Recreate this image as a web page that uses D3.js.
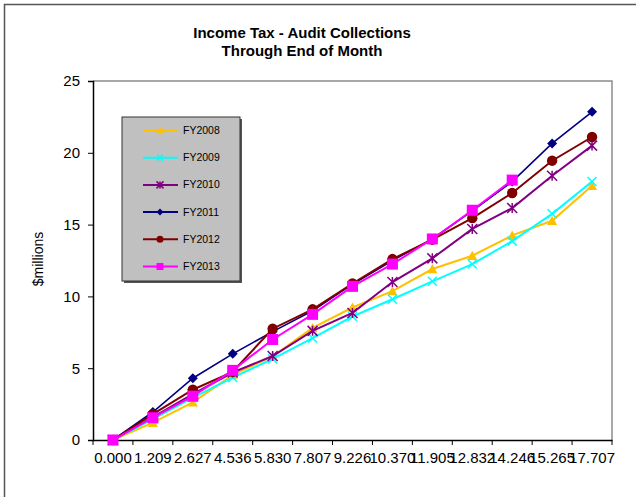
<!DOCTYPE html>
<html>
<head>
<meta charset="utf-8">
<script src="https://cdn.jsdelivr.net/npm/d3@7"></script>
<style>
  html, body { margin: 0; padding: 0; background: #fff; }
  svg { display: block; font-family: "Liberation Sans", Arial, sans-serif; }
</style>
</head>
<body>
<svg id="chart" width="636" height="497"></svg>
<script>
// ---- data ----
const categories = ["0.000","1.209","2.627","4.536","5.830","7.807","9.226","10.370","11.905","12.832","14.246","15.265","17.707"];
const seriesNames = ["FY2008","FY2009","FY2010","FY2011","FY2012","FY2013"];
const fy2008 = [0, 1.209, 2.627, 4.536, 5.830, 7.807, 9.226, 10.370, 11.905, 12.832, 14.246, 15.265, 17.707];
const fy2009 = [0, 1.45, 2.95, 4.35, 5.65, 7.1, 8.6, 9.8, 11.05, 12.25, 13.85, 15.75, 18.0];
const fy2010 = [0, 1.6, 3.2, 4.7, 5.85, 7.6, 8.85, 11.0, 12.65, 14.7, 16.15, 18.4, 20.5];
const fy2011 = [0, 1.95, 4.3, 6.0, 7.55, 9.0, 10.85, 12.5, 14.0, 15.95, 18.0, 20.65, 22.85];
const fy2012 = [0, 1.8, 3.5, 4.75, 7.75, 9.1, 10.9, 12.6, 13.95, 15.45, 17.2, 19.45, 21.1];
const fy2013 = [0, 1.55, 3.05, 4.85, 7.0, 8.75, 10.7, 12.25, 14.0, 16.0, 18.1];
const yTicks = [0, 5, 10, 15, 20, 25];
const titleLines = ["Income Tax - Audit Collections", "Through End of Month"];
const yLabel = "$millions";

const colors = ["#FFC000", "#00FFFF", "#800080", "#000080", "#800000", "#FF00FF"];
const markers = ["triangle", "x", "asterisk", "diamond", "circle", "square"];
const seriesValues = [fy2008, fy2009, fy2010, fy2011, fy2012, fy2013];
const series = seriesNames.map((n, i) => ({ name: n, values: seriesValues[i], color: colors[i], marker: markers[i] }));

// ---- layout ----
const svg = d3.select("#chart");
const plot = { left: 93, right: 612, top: 81, bottom: 440 };

// outer chart border
svg.append("rect").attr("x", 4.5).attr("y", 4.5).attr("width", 700).attr("height", 600)
  .attr("fill", "#fff").attr("stroke", "#555").attr("stroke-width", 1.5);

const x = d3.scaleBand().domain(categories).range([plot.left, plot.right]).paddingInner(0).paddingOuter(0);
const y = d3.scaleLinear().domain([0, 25]).range([plot.bottom, plot.top]);
const cx = d => x(d) + x.bandwidth() / 2;

// plot area border (top/right gray)
svg.append("path")
  .attr("d", `M${plot.left},${plot.top}H${plot.right}V${plot.bottom}`)
  .attr("fill", "none").attr("stroke", "#8c8c8c").attr("stroke-width", 1.5);

// title
const title = svg.append("text").attr("text-anchor", "middle").attr("font-weight", "bold")
  .attr("font-size", 15).attr("fill", "#000");
titleLines.forEach((t, i) => title.append("tspan").attr("x", 302).attr("y", 38 + i * 17.5).text(t));

// y label
svg.append("text").attr("transform", "translate(43,259) rotate(-90)")
  .attr("text-anchor", "middle").attr("font-size", 14).text(yLabel);

// y axis
const yAxis = svg.append("g").attr("transform", `translate(${plot.left},0)`)
  .call(d3.axisLeft(y).tickValues(yTicks).tickSize(5).tickPadding(8).tickFormat(d3.format("d")));
yAxis.select(".domain").attr("stroke", "#000").attr("stroke-width", 1.5);
yAxis.selectAll(".tick line").attr("stroke", "#000");
yAxis.selectAll("text").attr("font-size", 15).attr("font-family", "Liberation Sans, Arial, sans-serif").attr("fill", "#000");

// x axis labels
const xAxis = svg.append("g").attr("transform", `translate(0,${plot.bottom})`)
  .call(d3.axisBottom(x).tickSize(0).tickPadding(12));
xAxis.select(".domain").attr("stroke", "#000").attr("stroke-width", 1.5);
xAxis.selectAll("text").attr("font-size", 15).attr("font-family", "Liberation Sans, Arial, sans-serif").attr("fill", "#000");
// boundary ticks
const bounds = categories.map(c => x(c)).concat([x(categories[categories.length - 1]) + x.bandwidth()]);
xAxis.selectAll("line.bt").data(bounds).enter().append("line").attr("class", "bt")
  .attr("x1", d => d).attr("x2", d => d).attr("y1", 0).attr("y2", 5)
  .attr("stroke", "#000").attr("stroke-width", 1);

// ---- markers ----
function drawMarker(g, type, color, s) {
  if (type === "triangle") {
    g.append("path").attr("d", `M0,${-s}L${s},${s * 0.85}L${-s},${s * 0.85}Z`).attr("fill", color);
  } else if (type === "x") {
    g.append("path").attr("d", `M${-s},${-s}L${s},${s}M${-s},${s}L${s},${-s}`)
      .attr("stroke", color).attr("stroke-width", 1.5).attr("fill", "none");
  } else if (type === "asterisk") {
    g.append("path").attr("d", `M${-s},${-s}L${s},${s}M${-s},${s}L${s},${-s}M0,${-s}L0,${s}`)
      .attr("stroke", color).attr("stroke-width", 1.5).attr("fill", "none");
  } else if (type === "diamond") {
    g.append("path").attr("d", `M0,${-s}L${s},0L0,${s}L${-s},0Z`).attr("fill", color);
  } else if (type === "circle") {
    g.append("circle").attr("r", s).attr("fill", color);
  } else if (type === "square") {
    g.append("rect").attr("x", -s).attr("y", -s).attr("width", 2 * s).attr("height", 2 * s).attr("fill", color);
  }
}
const markerSize = { triangle: 5, x: 4.5, asterisk: 5, diamond: 5, circle: 5.2, square: 5.5 };
const legendMarkerSize = { triangle: 3.5, x: 3, asterisk: 3.5, diamond: 3.5, circle: 3.5, square: 3.5 };

// ---- lines ----
const line = d3.line().x((d, i) => cx(categories[i])).y(d => y(d));
series.forEach(s => {
  const g = svg.append("g");
  g.append("path").datum(s.values).attr("d", line).attr("fill", "none")
    .attr("stroke", s.color).attr("stroke-width", s.name === "FY2011" ? 1.6 : 2);
  s.values.forEach((v, i) => {
    const mg = g.append("g").attr("transform", `translate(${cx(categories[i])},${y(v)})`);
    drawMarker(mg, s.marker, s.color, markerSize[s.marker]);
  });
});

// ---- legend ----
const leg = svg.append("g");
leg.append("rect").attr("x", 124).attr("y", 119).attr("width", 118).attr("height", 164).attr("fill", "#555");
leg.append("rect").attr("x", 122).attr("y", 117).attr("width", 118).attr("height", 164)
  .attr("fill", "#C0C0C0").attr("stroke", "#333").attr("stroke-width", 1);
series.forEach((s, i) => {
  const ly = 130.5 + i * 27.2;
  leg.append("line").attr("x1", 143).attr("x2", 178).attr("y1", ly).attr("y2", ly)
    .attr("stroke", s.color).attr("stroke-width", 2);
  const mg = leg.append("g").attr("transform", `translate(160,${ly})`);
  drawMarker(mg, s.marker, s.color, legendMarkerSize[s.marker]);
  leg.append("text").attr("x", 183).attr("y", ly + 3.5).attr("font-size", 10.5).attr("fill", "#000").text(s.name);
});
</script>
</body>
</html>
